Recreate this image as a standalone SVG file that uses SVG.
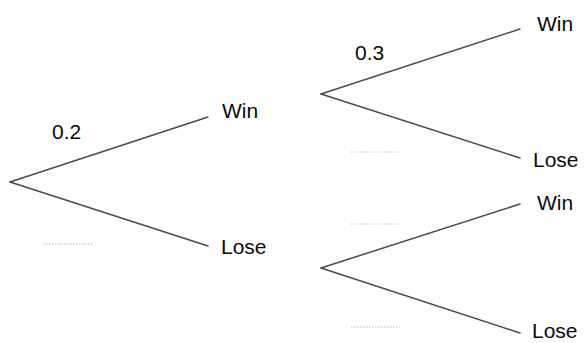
<svg xmlns="http://www.w3.org/2000/svg" width="584" height="343" viewBox="0 0 584 343">
<style>
.br{stroke:#4a4a4a;stroke-width:1.5;fill:none;stroke-linecap:round}
.t{font-family:"Liberation Sans",Arial,sans-serif;font-size:21px;fill:#0a0a0a}
.blank{stroke:#c4b4bc;stroke-width:1;stroke-dasharray:1.5 1.5}
</style>
<rect width="584" height="343" fill="#fff"/>
<g id="connectors">
<line class="br" x1="10" y1="182" x2="208" y2="117"/>
<line class="br" x1="10" y1="182" x2="208" y2="246"/>
<line class="br" x1="321" y1="94" x2="520" y2="29"/>
<line class="br" x1="321" y1="94" x2="520" y2="158"/>
<line class="br" x1="321" y1="268" x2="520" y2="204"/>
<line class="br" x1="321" y1="268" x2="520" y2="333"/>
</g>
<g id="win1"><text class="t" x="222" y="118">Win</text></g>
<g id="lose1"><text class="t" x="221" y="254">Lose</text></g>
<g id="win2"><text class="t" x="537" y="31">Win</text></g>
<g id="lose2"><text class="t" x="533" y="167">Lose</text></g>
<g id="win3"><text class="t" x="537" y="210">Win</text></g>
<g id="lose3"><text class="t" x="532" y="338">Lose</text></g>
<g id="labels">
<text class="t" x="52" y="139">0.2</text>
<text class="t" x="355" y="60">0.3</text>
<line class="blank" x1="43" y1="244" x2="93" y2="244"/>
<line class="blank" x1="351" y1="152" x2="400" y2="152"/>
<line class="blank" x1="351" y1="224" x2="400" y2="224"/>
<line class="blank" x1="351" y1="327" x2="400" y2="327"/>
</g>
</svg>
